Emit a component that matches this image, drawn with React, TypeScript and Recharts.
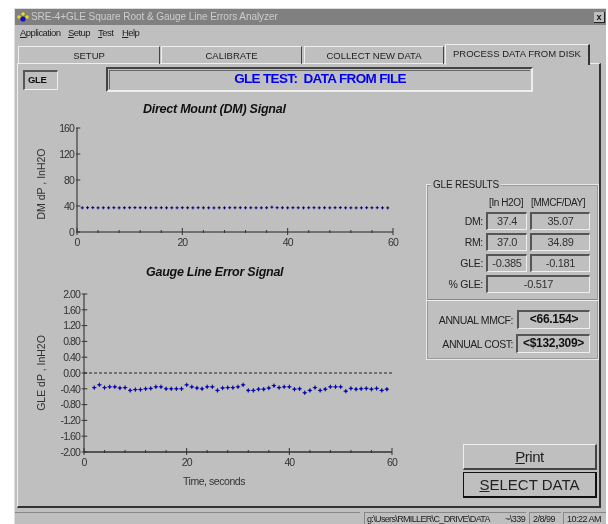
import React from 'react';
import { ScatterChart, Scatter, XAxis, YAxis, ReferenceLine } from 'recharts';

// seconds
const dmTimes = [1,2,3,4,5,6,7,8,9,10,11,12,13,14,15,16,17,18,19,20,21,22,23,24,25,26,27,28,29,30,31,32,33,34,35,36,37,38,39,40,41,42,43,44,45,46,47,48,49,50,51,52,53,54,55,56,57,58,59];
const dmValues = [37.2,37.4,37.5,37.2,37.3,37.2,37.4,37.2,37.3,37.4,37.5,37.4,37.3,37.2,37.3,37.4,37.2,37.3,37.2,37.4,37.3,37.2,37.4,37.2,37.2,37.1,37.3,37.2,37.4,37.3,37.4,37.2,37.3,37.2,37.2,37.3,38.2,37.4,37.3,37.2,37.4,37.3,37.2,37.3,37.4,37.2,37.3,37.2,37.4,37.5,37.2,37.2,37.1,37.2,37.4,37.3,37.4,37.2,37.1];
const gleTimes = [2,3,4,5,6,7,8,9,10,11,12,13,14,15,16,17,18,19,20,21,22,23,24,25,26,27,28,29,30,31,32,33,34,35,36,37,38,39,40,41,42,43,44,45,46,47,48,49,50,51,52,53,54,55,56,57,58,59];
const gleValues = [-0.37,-0.3,-0.37,-0.35,-0.35,-0.38,-0.37,-0.44,-0.42,-0.42,-0.4,-0.39,-0.35,-0.35,-0.4,-0.4,-0.4,-0.4,-0.3,-0.35,-0.38,-0.4,-0.35,-0.35,-0.44,-0.38,-0.37,-0.37,-0.35,-0.3,-0.44,-0.44,-0.41,-0.41,-0.38,-0.32,-0.37,-0.35,-0.35,-0.41,-0.4,-0.5,-0.44,-0.37,-0.44,-0.41,-0.35,-0.35,-0.35,-0.46,-0.39,-0.41,-0.4,-0.39,-0.41,-0.39,-0.44,-0.41];
const timeTicks = [0,4,8,12,16,20,24,28,32,36,40,44,48,52,56,60];
const dmTicks = [0,40,80,120,160];
const gleTicks = [-2,-1.6,-1.2,-0.8,-0.4,0,0.4,0.8,1.2,1.6,2];

const dmData = dmTimes.map((t, i) => ({ t, v: dmValues[i] }));
const gleData = gleTimes.map((t, i) => ({ t, v: gleValues[i] }));

const SANS = '"Liberation Sans", Arial, sans-serif';
const GREY = '#bfbfbf';

function PlusDot(props: any) {
  const { cx, cy } = props;
  return <path d={`M${cx - 1.5} ${cy}H${cx + 1.5}M${cx} ${cy - 1.5}V${cy + 1.5}`} stroke="#00007a" strokeWidth={1} fill="none" />;
}

function BlueDot(props: any) {
  const { cx, cy } = props;
  return (
    <g>
      <path d={`M${cx - 2.2} ${cy}H${cx + 2.2}M${cx} ${cy - 2.2}V${cy + 2.2}`} stroke="#00006a" strokeWidth={0.9} fill="none" />
      <circle cx={cx} cy={cy} r={1.2} fill="#0000d8" />
    </g>
  );
}

function TimeTick(props: any) {
  const { x, payload, axisY } = props;
  const major = payload.value % 20 === 0;
  return (
    <g>
      <line x1={x} x2={x} y1={axisY - (major ? 4 : 2)} y2={axisY + (major ? 3 : 1)} stroke="#333" />
      {major && (
        <text x={x} y={axisY + 14} textAnchor="middle" fontSize={10.5} fontFamily={SANS} letterSpacing={-0.9} fill="#333">
          {payload.value}
        </text>
      )}
    </g>
  );
}

function ValueTick(props: any) {
  const { y, payload, axisX, gap, fmt } = props;
  return (
    <g>
      <line x1={axisX - (gap > 3 ? 2.3 : 1)} x2={axisX + 3.3} y1={y} y2={y} stroke="#333" />
      <text x={axisX - gap} y={y + 3.7} textAnchor="end" fontSize={10.5} fontFamily={SANS} letterSpacing={-0.9} fill="#333">
        {fmt ? fmt(payload.value) : payload.value}
      </text>
    </g>
  );
}

function Box({ l, t, w, h, children, bold, size, align }: any) {
  return (
    <div style={{ position: 'absolute', left: l, top: t, width: w, height: h, boxSizing: 'border-box', borderTop: '2px solid #555', borderLeft: '2px solid #555', borderRight: '1px solid #eee', borderBottom: '1px solid #eee', textAlign: align || 'center', paddingLeft: align ? 3 : 0, lineHeight: `${h - 4}px`, fontSize: size || 11, fontWeight: bold ? 700 : 400, color: bold ? '#111' : '#333', letterSpacing: -0.3 }}>
      {children}
    </div>
  );
}

function Txt({ l, t, r, children, size, color, bold, italic, spacing }: any) {
  return (
    <div style={{ position: 'absolute', left: l, top: t, right: r === undefined ? undefined : 608 - r, whiteSpace: 'pre', fontSize: size || 10, color: color || '#222', fontWeight: bold ? 700 : 400, fontStyle: italic ? 'italic' : 'normal', lineHeight: 1.15, letterSpacing: spacing === undefined ? -0.2 : spacing, textAlign: r === undefined ? 'left' : 'right' }}>
      {children}
    </div>
  );
}

const menus = [
  { label: 'Application', x: 20, first: 'A' },
  { label: 'Setup', x: 68, first: 'S' },
  { label: 'Test', x: 98, first: 'T' },
  { label: 'Help', x: 122, first: 'H' },
];
const tabs = [
  { label: 'SETUP', x: 18, w: 142 },
  { label: 'CALIBRATE', x: 161, w: 141 },
  { label: 'COLLECT NEW DATA', x: 304, w: 140 },
];
const resultRows = [
  { label: 'DM:', a: '37.4', b: '35.07', t: 212 },
  { label: 'RM:', a: '37.0', b: '34.89', t: 233 },
  { label: 'GLE:', a: '-0.385', b: '-0.181', t: 254 },
];

const statusCell: React.CSSProperties = { position: 'absolute', top: 512, height: 12, borderTop: '1px solid #888', borderLeft: '1px solid #888', boxSizing: 'border-box', fontSize: 9, lineHeight: '12px', whiteSpace: 'pre', color: '#222', letterSpacing: -0.5 };

export default function App() {
  return (
    <div style={{ position: 'absolute', left: 0, top: 0, width: 608, height: 524, background: '#fff', overflow: 'hidden', fontFamily: SANS, filter: 'blur(0.35px)' }}>
      {/* window */}
      <div style={{ position: 'absolute', left: 14, top: 8, width: 592, height: 516, background: GREY, borderTop: '1px solid #ddd', borderLeft: '1px solid #ddd', boxSizing: 'border-box' }} />
      <div style={{ position: 'absolute', left: 15, top: 9, width: 591, height: 16, background: '#808080' }} />
      <svg style={{ position: 'absolute', left: 16, top: 12 }} width={14} height={11}>
        <circle cx={3} cy={5} r={1.8} fill="#e8d820" />
        <circle cx={11} cy={5} r={1.8} fill="#e8d820" />
        <circle cx={7} cy={2} r={1.8} fill="#e8d820" />
        <circle cx={7} cy={7} r={2.6} fill="#1010c0" />
      </svg>
      <Txt l={31} t={11} size={10} color="#cccccc" spacing={-0.05}>{'SRE-4+GLE Square Root & Gauge Line Errors Analyzer'}</Txt>
      <div style={{ position: 'absolute', left: 594, top: 12, width: 11, height: 11, background: GREY, borderRight: '1px solid #222', borderBottom: '1px solid #222', boxSizing: 'border-box', fontSize: 9, fontWeight: 700, lineHeight: '10px', textAlign: 'center', color: '#111' }}>x</div>

      {menus.map((m) => (
        <Txt key={m.label} l={m.x} t={28} size={9.5} spacing={-0.55}><u>{m.first}</u>{m.label.slice(1)}</Txt>
      ))}

      {/* tabs */}
      <div style={{ position: 'absolute', left: 17, top: 63, width: 584, height: 445, boxSizing: 'border-box', borderTop: '1px solid #eee', borderLeft: '1px solid #eee', borderRight: '2px solid #333', borderBottom: '2px solid #333' }} />
      {tabs.map((t) => (
        <div key={t.label} style={{ position: 'absolute', left: t.x, top: 46, width: t.w, height: 18, boxSizing: 'border-box', borderTop: '1px solid #eee', borderLeft: '1px solid #eee', borderRight: '1px solid #444', textAlign: 'center', fontSize: 9.5, lineHeight: '17px', color: '#222' }}>{t.label}</div>
      ))}
      <div style={{ position: 'absolute', left: 445, top: 44, width: 145, height: 21, background: GREY, boxSizing: 'border-box', borderTop: '1px solid #eee', borderLeft: '1px solid #eee', borderRight: '2px solid #333', textAlign: 'center', fontSize: 9.5, lineHeight: '18px', color: '#222' }}>PROCESS DATA FROM DISK</div>

      <Box l={23} t={70} w={35} h={20} bold size={9.5} align="left">GLE</Box>
      <div style={{ position: 'absolute', left: 106, top: 67, width: 427, height: 25, boxSizing: 'border-box', borderTop: '2px solid #444', borderLeft: '2px solid #444', borderRight: '2px solid #eee', borderBottom: '2px solid #eee', padding: 1 }}>
        <div style={{ height: '100%', boxSizing: 'border-box', borderTop: '1px solid #666', borderLeft: '1px solid #666', textAlign: 'center', fontSize: 13.5, fontWeight: 700, color: '#0000f0', lineHeight: '16px', letterSpacing: -0.65, whiteSpace: 'pre' }}>GLE TEST:  DATA FROM FILE</div>
      </div>

      {/* top chart */}
      <Txt l={143} t={102} size={12.5} bold italic color="#111" spacing={-0.25}>Direct Mount (DM) Signal</Txt>
      <div style={{ position: 'absolute', left: 20, top: 110 }}>
        <ScatterChart width={390} height={150} margin={{ left: 0, right: 17, top: 18, bottom: 0 }}>
          <XAxis type="number" dataKey="t" domain={[0, 60]} ticks={timeTicks} interval={0} height={28} tickLine={false} stroke="#222"
            tick={(p: any) => <TimeTick {...p} axisY={122} />} />
          <YAxis type="number" dataKey="v" domain={[0, 160]} ticks={dmTicks} interval={0} width={57} stroke="#222" tickLine={false}
            tick={(p: any) => <ValueTick {...p} axisX={57} gap={3} />}
            label={{ value: 'DM dP , InH2O', angle: -90, position: 'insideLeft', offset: 21, dy: 4, style: { fontSize: 10.5, fontFamily: SANS, fill: '#333', textAnchor: 'middle' } }} />
          <Scatter data={dmData} isAnimationActive={false} shape={PlusDot} />
        </ScatterChart>
      </div>

      {/* bottom chart */}
      <Txt l={146} t={265} size={12.5} bold italic color="#111" spacing={-0.25}>Gauge Line Error Signal</Txt>
      <div style={{ position: 'absolute', left: 20, top: 280 }}>
        <ScatterChart width={390} height={214} margin={{ left: 0, right: 18, top: 14, bottom: 9 }}>
          <XAxis type="number" dataKey="t" domain={[0, 60]} ticks={timeTicks} interval={0} height={33} tickLine={false} axisLine={{ stroke: '#555', strokeWidth: 2 }}
            tick={(p: any) => <TimeTick {...p} axisY={172} />}
            label={{ value: 'Time, seconds', position: 'insideBottom', offset: 0, dx: -24, style: { fontSize: 10.5, fontFamily: SANS, fill: '#333', letterSpacing: -0.45 } }} />
          <YAxis type="number" dataKey="v" domain={[-2, 2]} ticks={gleTicks} interval={0} width={64} stroke="#222" tickLine={false}
            tick={(p: any) => <ValueTick {...p} axisX={64} gap={4} fmt={(v: number) => v.toFixed(2)} />}
            label={{ value: 'GLE dP , InH2O', angle: -90, position: 'insideLeft', offset: 21, style: { fontSize: 10.5, fontFamily: SANS, fill: '#333', textAnchor: 'middle' } }} />
          <ReferenceLine y={0} stroke="#222" strokeDasharray="3 2" />
          <Scatter data={gleData} isAnimationActive={false} shape={BlueDot} />
        </ScatterChart>
      </div>

      {/* results group */}
      <div style={{ position: 'absolute', left: 426, top: 184, width: 173, height: 176, boxSizing: 'border-box', border: '1px solid #e8e8e8', outline: '1px solid #999', outlineOffset: -2 }} />
      <div style={{ position: 'absolute', left: 427, top: 299, width: 171, height: 2, background: '#eee', borderTop: '1px solid #888', boxSizing: 'border-box' }} />
      <div style={{ position: 'absolute', left: 431, top: 179, background: GREY, padding: '0 2px', fontSize: 10, lineHeight: '12px', color: '#222', letterSpacing: -0.2 }}>GLE RESULTS</div>
      <Txt l={489} t={197} size={10} spacing={-0.4}>[In H2O]</Txt>
      <Txt l={531} t={197} size={10} spacing={-0.4}>[MMCF/DAY]</Txt>
      {resultRows.map((r) => (
        <React.Fragment key={r.label}>
          <Txt r={483} t={r.t + 3} size={10.5} spacing={-0.3}>{r.label}</Txt>
          <Box l={486} t={r.t} w={41} h={18}>{r.a}</Box>
          <Box l={530} t={r.t} w={60} h={18}>{r.b}</Box>
        </React.Fragment>
      ))}
      <Txt r={483} t={278} size={10.5} spacing={-0.3}>% GLE:</Txt>
      <Box l={486} t={275} w={104} h={18}>-0.517</Box>
      <Txt r={513} t={314} size={10.5} spacing={-0.45}>ANNUAL MMCF:</Txt>
      <Box l={517} t={310} w={73} h={19} bold size={12}>{'<66.154>'}</Box>
      <Txt r={513} t={338} size={10.5} spacing={-0.45}>ANNUAL COST:</Txt>
      <Box l={516} t={334} w={74} h={19} bold size={12}>{'<$132,309>'}</Box>

      {/* buttons */}
      <div style={{ position: 'absolute', left: 463, top: 444, width: 134, height: 26, boxSizing: 'border-box', borderTop: '1px solid #eee', borderLeft: '1px solid #eee', borderRight: '2px solid #444', borderBottom: '2px solid #444', textAlign: 'center', fontSize: 15, lineHeight: '23px', color: '#222', letterSpacing: -0.5 }}><u>P</u>rint</div>
      <div style={{ position: 'absolute', left: 463, top: 472, width: 134, height: 26, boxSizing: 'border-box', border: '1px solid #111', borderRight: '2px solid #111', borderBottom: '2px solid #111', textAlign: 'center', fontSize: 15, lineHeight: '23px', color: '#222' }}><u>S</u>ELECT DATA</div>

      {/* status bar */}
      <div style={{ position: 'absolute', left: 15, top: 512, width: 345, height: 12, borderTop: '1px solid #888', boxSizing: 'border-box' }} />
      <div style={{ ...statusCell, left: 364, width: 162, paddingLeft: 2, letterSpacing: -0.65 }}>{'g:\\Users\\RMILLER\\C_DRIVE\\DATA'}</div>
      <div style={{ position: 'absolute', left: 505, top: 513, fontSize: 9, lineHeight: '12px', color: '#222', letterSpacing: -0.5 }}>~\339</div>
      <div style={{ ...statusCell, left: 529, width: 32, paddingLeft: 3 }}>2/8/99</div>
      <div style={{ ...statusCell, left: 563, width: 43, paddingLeft: 3 }}>10:22 AM</div>
    </div>
  );
}
